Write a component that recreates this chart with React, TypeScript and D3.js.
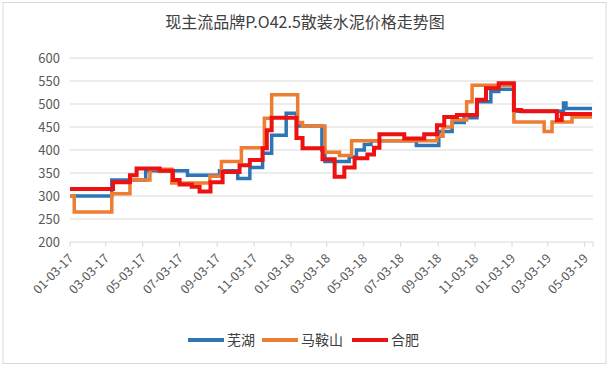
import * as d3 from "d3";

const width = 612;
const height = 367;

// change points of each stepped price series: [date, price]
const wuhu: [string, number][] = [
  ["2017-01-03", 300], ["2017-03-13", 335], ["2017-05-08", 355], ["2017-07-16", 345],
  ["2017-09-07", 355], ["2017-10-07", 338], ["2017-10-27", 362], ["2017-11-17", 393],
  ["2017-12-02", 432], ["2017-12-26", 480], ["2018-01-12", 452], ["2018-02-23", 400],
  ["2018-02-28", 375], ["2018-04-09", 385], ["2018-04-21", 400], ["2018-05-04", 412],
  ["2018-05-15", 420], ["2018-07-29", 410], ["2018-09-04", 440], ["2018-09-26", 460],
  ["2018-10-16", 470], ["2018-11-06", 505], ["2018-11-29", 527], ["2018-12-12", 532],
  ["2019-01-06", 484], ["2019-03-29", 502], ["2019-04-02", 490], ["2019-05-15", 490],
];

const maanshan: [string, number][] = [
  ["2017-01-03", 300], ["2017-01-10", 265], ["2017-03-13", 305], ["2017-04-12", 335],
  ["2017-05-15", 358], ["2017-06-20", 328], ["2017-08-22", 343], ["2017-09-10", 375],
  ["2017-10-13", 405], ["2017-11-20", 469], ["2017-12-02", 520], ["2018-01-14", 460],
  ["2018-01-22", 452], ["2018-02-28", 395], ["2018-03-24", 388], ["2018-04-13", 420],
  ["2018-09-01", 430], ["2018-09-11", 450], ["2018-09-26", 465], ["2018-10-20", 505],
  ["2018-10-29", 541], ["2019-01-06", 461], ["2019-02-25", 440], ["2019-03-10", 461],
  ["2019-04-12", 472], ["2019-05-15", 472],
];

const hefei: [string, number][] = [
  ["2017-01-03", 315], ["2017-03-15", 330], ["2017-04-12", 345], ["2017-04-23", 360],
  ["2017-05-31", 355], ["2017-06-22", 335], ["2017-07-03", 325], ["2017-07-23", 320],
  ["2017-08-05", 310], ["2017-08-23", 330], ["2017-09-12", 352], ["2017-10-10", 367],
  ["2017-10-27", 378], ["2017-11-17", 404], ["2017-11-24", 443], ["2017-12-02", 470],
  ["2018-01-12", 426], ["2018-01-22", 404], ["2018-02-24", 380], ["2018-03-16", 342],
  ["2018-04-01", 362], ["2018-04-18", 382], ["2018-05-09", 390], ["2018-05-20", 405],
  ["2018-05-29", 434], ["2018-07-09", 425], ["2018-08-11", 434], ["2018-09-01", 454],
  ["2018-09-13", 472], ["2018-10-04", 476], ["2018-11-06", 509], ["2018-11-21", 534],
  ["2018-12-12", 545], ["2019-01-06", 487], ["2019-01-18", 484], ["2019-03-18", 465],
  ["2019-03-26", 478], ["2019-05-15", 478],
];

const tickLabels = [
  "01-03-17", "03-03-17", "05-03-17", "07-03-17", "09-03-17", "11-03-17", "01-03-18",
  "03-03-18", "05-03-18", "07-03-18", "09-03-18", "11-03-18", "01-03-19", "03-03-19", "05-03-19",
];
const yTicks = [200, 250, 300, 350, 400, 450, 500, 550, 600];

const series = [
  { name: "芜湖", data: wuhu, color: "#2E75B6", w: 3.5 },
  { name: "马鞍山", data: maanshan, color: "#ED7D31", w: 3.5 },
  { name: "合肥", data: hefei, color: "#EE1111", w: 4 },
];

const font = "'Noto Sans CJK SC', 'Noto Sans', sans-serif";
const parse = d3.timeParse("%Y-%m-%d");
const parseTick = d3.timeParse("%m-%d-%y");

const App = () => {
  const x = d3
    .scaleTime()
    .domain([parse("2017-01-03")!, parse("2019-05-15")!])
    .range([70, 592]);
  const y = d3.scaleLinear().domain([200, 600]).range([242, 58]);

  const line = d3
    .line<[string, number]>()
    .x((d) => x(parse(d[0])!))
    .y((d) => y(d[1]))
    .curve(d3.curveStepAfter);

  const legendX = [188, 262, 352];

  return (
    <svg width={width} height={height} style={{ position: "absolute", left: 0, top: 0 }} fontFamily={font}>
      <rect x={0} y={0} width={width} height={height} fill="#fff" />
      <rect x={3} y={2.5} width={603} height={361} fill="none" stroke="#d9d9d9" />
      <text x={305} y={28} textAnchor="middle" fontSize={16} fill="#404040">
        现主流品牌P.O42.5散装水泥价格走势图
      </text>
      {yTicks.map((t) => (
        <g key={t}>
          <line x1={70} x2={593} y1={y(t)} y2={y(t)} stroke="#d9d9d9" />
          <text x={60} y={y(t)} dy="0.35em" textAnchor="end" fontSize={13} fill="#595959">
            {t}
          </text>
        </g>
      ))}
      {tickLabels.map((t) => {
        const tx = x(parseTick(t)!);
        return (
          <g key={t}>
            <line x1={tx} x2={tx} y1={242} y2={247} stroke="#d9d9d9" />
            <text
              transform={`translate(${tx + 1},${256}) rotate(-45)`}
              textAnchor="end"
              dy="0.35em"
              fontSize={12.5}
              fill="#595959"
            >
              {t}
            </text>
          </g>
        );
      })}
      <line x1={593} x2={593} y1={242} y2={247} stroke="#d9d9d9" />
      {series.map((s) => (
        <path key={s.name} d={line(s.data) ?? ""} fill="none" stroke={s.color} strokeWidth={s.w} />
      ))}
      {series.map((s, i) => (
        <g key={s.name}>
          <line x1={legendX[i]} x2={legendX[i] + 36} y1={340} y2={340} stroke={s.color} strokeWidth={4} />
          <text x={legendX[i] + 39} y={340} dy="0.35em" fontSize={14} fill="#404040">
            {s.name}
          </text>
        </g>
      ))}
    </svg>
  );
};

export default App;
